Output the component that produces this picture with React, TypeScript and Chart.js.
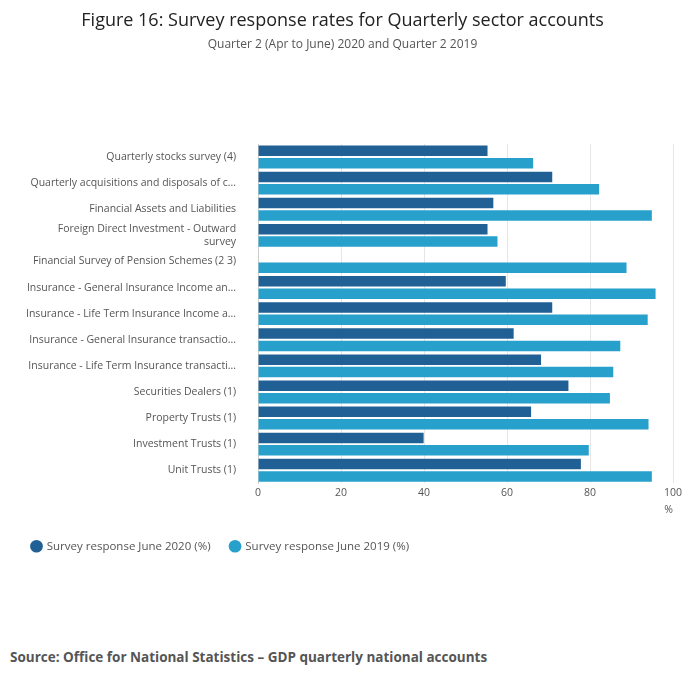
import React, { useEffect, useRef } from "react";
import { Chart, registerables } from "chart.js";
Chart.register(...registerables);

const categories: (string | string[])[] = [
  "Quarterly stocks survey (4)",
  "Quarterly acquisitions and disposals of c...",
  "Financial Assets and Liabilities",
  ["Foreign Direct Investment - Outward", "survey"],
  "Financial Survey of Pension Schemes (2 3)",
  "Insurance - General Insurance Income an...",
  "Insurance - Life Term Insurance Income a...",
  "Insurance - General Insurance transactio...",
  "Insurance - Life Term Insurance transacti...",
  "Securities Dealers (1)",
  "Property Trusts (1)",
  "Investment Trusts (1)",
  "Unit Trusts (1)",
];
const june2020: (number | null)[] = [55.3, 70.9, 56.7, 55.3, null, 59.7, 70.9, 61.6, 68.2, 74.8, 65.8, 39.9, 77.8];
const june2019: number[] = [66.3, 82.2, 94.9, 57.7, 88.8, 95.8, 93.9, 87.3, 85.6, 84.8, 94.1, 79.7, 94.9];
const xTicks = [0, 20, 40, 60, 80, 100];

export default function App() {
  const ref = useRef<HTMLCanvasElement>(null);
  useEffect(() => {
    const font = "'Open Sans', sans-serif";
    const chart = new Chart(ref.current!, {
      type: "bar",
      data: {
        labels: categories,
        datasets: [
          { label: "Survey response June 2020 (%)", data: june2020, backgroundColor: "#206095", barPercentage: 0.85, categoryPercentage: 0.95 },
          { label: "Survey response June 2019 (%)", data: june2019, backgroundColor: "#27a0cc", barPercentage: 0.85, categoryPercentage: 0.95 },
        ],
      },
      options: {
        indexAxis: "y",
        animation: false,
        responsive: false,
        layout: { padding: { top: 0, right: 19, bottom: 48, left: 4 } },
        font: { family: font },
        plugins: {
          title: { display: true, text: "Figure 16: Survey response rates for Quarterly sector accounts", color: "#222", font: { family: font, size: 18, weight: "normal" }, padding: { top: 0, bottom: 6 } },
          subtitle: { display: true, text: "Quarter 2 (Apr to June) 2020 and Quarter 2 2019", color: "#555", font: { family: font, size: 12 }, padding: { bottom: 92 } },
          legend: {
            position: "bottom", align: "start",
            labels: { usePointStyle: true, pointStyle: "circle", boxWidth: 9, boxHeight: 9, color: "#555", font: { family: font, size: 11.5 }, padding: 20 },
          },
          tooltip: { enabled: false },
        },
        scales: {
          x: {
            min: 0, max: 100,
            afterBuildTicks: (ax: any) => { ax.ticks = xTicks.map((v) => ({ value: v })); },
            ticks: { color: "#555", font: { family: font, size: 10.5 } },
            grid: { color: "#e6e6e6", drawTicks: false },
            border: { display: false },
            title: { display: true, text: "%", align: "end", color: "#555", font: { family: font, size: 10.5 }, padding: { top: 2 } },
          },
          y: {
            ticks: { color: "#555", font: { family: font, size: 10.5 }, autoSkip: false, padding: 14 },
            grid: { display: false },
            border: { color: "#ccc" },
          },
        },
      },
    });
    return () => chart.destroy();
  }, []);
  return (
    <div style={{ position: "relative", width: 684, height: 666, fontFamily: "'Open Sans', sans-serif" }}>
      <canvas ref={ref} width={684} height={600} style={{ display: "block", marginTop: 2 }} />
      <div style={{ position: "absolute", left: 2, top: 638, fontSize: 13.5, fontWeight: "bold", color: "#555" }}>
        Source: Office for National Statistics – GDP quarterly national accounts
      </div>
    </div>
  );
}
